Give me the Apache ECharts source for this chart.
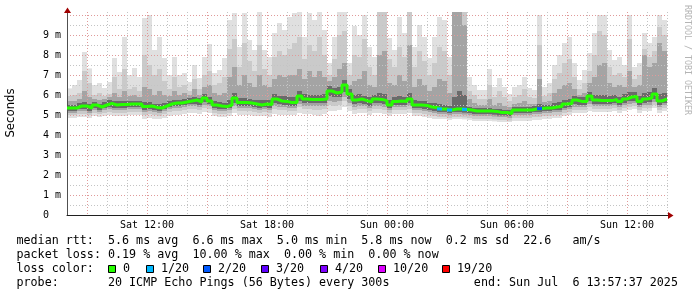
<!DOCTYPE html>
<html><head><meta charset="utf-8">
<script src="https://cdn.jsdelivr.net/npm/echarts@6/dist/echarts.min.js"></script>
<style>html,body{margin:0;padding:0;background:#fff}#c{width:697px;height:297px}</style>
</head><body><div id="c"></div><script>
// ---- data (hours since Sat 08:00, 15-minute columns) ----
const STEP = 0.25;
const xTickHours = [4, 10, 16, 22, 28];
const xTickLabels = ['Sat 12:00', 'Sat 18:00', 'Sun 00:00', 'Sun 06:00', 'Sun 12:00'];
const yTickValues = [0, 1, 2, 3, 4, 5, 6, 7, 8, 9];
const yTickLabels = ['0', '1 m', '2 m', '3 m', '4 m', '5 m', '6 m', '7 m', '8 m', '9 m'];

const medianMs = [
5.35,5.35,5.45,5.45,5.35,5.5,5.4,5.5,5.58,5.5,5.52,5.52,5.55,5.55,5.55,
5.42,5.45,5.38,5.35,5.45,5.55,5.6,5.6,5.65,5.7,5.75,5.65,5.85,5.7,5.5,
5.45,5.42,5.5,5.85,5.62,5.62,5.6,5.55,5.5,5.55,5.52,5.8,5.7,5.68,5.62,
5.62,5.95,5.8,5.78,5.78,5.78,5.8,6.2,6.1,6.15,6.5,6.05,5.75,5.8,5.72,
5.65,5.8,5.78,5.72,5.5,5.68,5.7,5.68,5.8,5.5,5.5,5.48,5.4,5.38,5.3,
5.3,5.25,5.3,5.3,5.28,5.25,5.2,5.2,5.2,5.2,5.18,5.12,5.12,5.08,5.25,
5.25,5.25,5.25,5.3,5.32,5.35,5.35,5.4,5.42,5.55,5.58,5.75,5.68,5.67,5.95,
5.75,5.72,5.72,5.72,5.78,5.67,5.8,5.9,5.93,5.67,5.8,5.85,6.05,5.7,5.8];

const lossCount = [
0,0,0,0,0,0,0,0,0,0,0,0,0,0,0,
0,0,0,0,0,0,0,0,0,0,0,0,0,0,0,
0,0,0,0,0,0,0,0,0,0,0,0,0,0,0,
0,0,0,0,0,0,0,0,0,0,0,0,0,0,0,
0,0,0,0,0,0,0,0,0,0,0,0,0,0,1,
0,1,0,0,1,0,0,0,0,0,0,0,0,0,0,
0,0,0,0,2,0,0,0,0,0,0,0,0,0,0,
0,0,0,0,0,0,0,0,0,0,0,0,0,0,0];

const smokeHiA = [
6.33,6.5,6.75,8.15,7.33,6.5,6.6,6.35,6.65,7.85,7.15,8.9,7.0,7.35,6.9,
9.85,10.0,8.25,8.9,7.85,7.0,7.9,7.0,7.1,6.65,7.5,6.85,7.9,8.55,7.1,
7.25,7.85,9.75,10.1,8.4,10.1,8.75,8.25,10.2,8.25,7.9,9.1,9.6,9.25,9.9,
10.1,10.2,8.9,10.1,9.75,10.2,9.25,7.6,8.9,10.2,10.2,7.6,9.45,9.0,10.0,
8.4,7.9,10.2,10.2,8.85,8.25,9.9,9.1,10.2,8.4,9.5,8.9,7.85,8.9,9.9,
9.75,7.9,10.2,10.2,10.2,6.9,6.5,6.25,6.25,7.3,6.4,6.85,6.4,6.05,6.4,
6.5,6.9,6.35,6.25,10.0,6.4,6.6,7.5,8.0,8.6,8.9,7.6,6.75,7.25,8.1,
9.1,10.0,10.0,8.25,7.75,7.9,7.5,10.0,7.4,7.6,9.1,8.6,8.9,10.0,9.75];

const smokeHiB = [
5.95,6.0,6.1,7.2,6.6,6.0,6.1,5.95,6.05,6.9,6.3,7.3,6.3,6.4,6.2,
8.0,7.5,7.0,7.3,6.7,6.3,6.9,6.4,6.5,6.2,6.8,6.3,7.0,7.2,6.5,
6.6,6.9,8.3,8.8,7.4,8.6,7.7,7.2,8.5,7.3,7.0,7.9,8.2,8.0,8.3,
8.6,8.9,7.8,8.5,8.2,8.9,8.0,7.0,7.8,9.0,9.2,7.0,8.0,7.9,
8.8,7.4,7.0,10.2,10.2,7.8,7.4,8.4,7.9,10.2,7.4,8.2,7.7,7.0,7.6,
8.4,8.2,7.0,10.2,10.2,10.2,6.2,6.0,5.8,5.8,6.5,5.9,6.2,5.9,5.7,
5.9,6.0,6.3,5.9,5.85,8.5,5.95,6.1,6.8,7.1,7.6,7.8,6.9,6.3,6.6,7.2,
8.0,9.2,9.0,7.4,7.0,7.1,6.9,8.8,6.8,7.0,8.3,7.9,8.2,9.4,9.0];

const smokeHiC = [
5.7,5.7,5.8,6.2,5.9,5.8,5.75,5.8,5.9,6.1,5.9,6.2,5.95,6.0,5.9,
6.4,6.3,6.0,6.2,6.0,5.95,6.2,6.0,6.1,6.0,6.3,6.0,6.4,6.5,6.1,
6.0,6.1,6.9,7.4,6.5,7.0,6.6,6.4,7.0,6.5,6.4,6.8,7.0,6.9,7.0,
7.0,7.3,6.8,7.2,6.9,7.2,6.9,6.7,6.9,7.3,7.6,6.5,6.7,6.8,
7.2,6.5,6.4,8.0,8.2,6.6,6.5,7.0,6.7,8.5,6.4,6.8,6.5,6.2,6.4,
6.8,6.7,6.1,10.2,10.2,9.5,5.8,5.6,5.5,5.5,5.8,5.5,5.6,5.45,5.4,
5.55,5.6,5.7,5.55,5.55,6.8,5.65,5.7,6.1,6.3,6.5,6.6,6.3,6.0,6.1,6.6,
6.9,7.5,7.6,6.6,6.4,6.5,6.4,7.2,6.4,6.5,8.0,7.4,7.6,8.6,8.2];

const smokeHiD = [
5.5,5.5,5.6,5.65,5.55,5.65,5.55,5.65,5.75,5.7,5.7,5.7,5.7,5.7,5.7,
5.65,5.65,5.55,5.55,5.6,5.7,5.75,5.75,5.8,5.85,5.9,5.85,6.05,5.9,5.7,
5.65,5.6,5.75,6.1,5.85,5.85,5.8,5.75,5.75,5.75,5.75,6.05,5.95,5.95,5.9,
5.9,6.2,6.05,6.0,6.0,6.0,6.05,6.45,6.35,6.4,6.75,6.3,6.0,6.05,
5.95,5.9,6.0,6.1,6.05,5.75,5.9,5.95,5.9,6.1,5.75,5.7,5.7,5.6,5.6,
5.55,5.5,5.45,5.9,6.2,6.0,5.4,5.35,5.35,5.35,5.35,5.3,5.3,5.25,5.25,
5.4,5.4,5.4,5.4,5.45,5.55,5.5,5.5,5.6,5.65,5.75,5.8,5.95,5.9,5.9,6.15,
6.0,6.0,6.0,5.95,6.0,5.9,6.05,6.15,6.15,5.95,6.1,6.15,6.35,6.05,6.1];

const smokeLoD = [
5.2,5.2,5.3,5.3,5.2,5.35,5.25,5.35,5.4,5.35,5.35,5.35,5.4,5.4,5.4,
5.25,5.3,5.25,5.2,5.3,5.4,5.45,5.45,5.5,5.55,5.55,5.5,5.65,5.55,5.35,
5.3,5.3,5.35,5.6,5.45,5.45,5.45,5.4,5.35,5.4,5.35,5.6,5.55,5.5,5.45,
5.45,5.7,5.6,5.6,5.6,5.6,5.6,5.95,5.9,5.9,6.15,5.8,5.55,5.6,
5.55,5.45,5.6,5.6,5.55,5.35,5.5,5.5,5.5,5.6,5.35,5.35,5.3,5.25,5.2,
5.15,5.15,5.1,5.15,5.15,5.12,5.1,5.05,5.05,5.05,5.05,5.02,4.98,4.98,4.95,
5.1,5.1,5.1,5.1,5.15,5.15,5.2,5.2,5.25,5.25,5.35,5.4,5.55,5.5,5.5,5.7,
5.55,5.55,5.55,5.55,5.6,5.5,5.6,5.7,5.7,5.5,5.6,5.65,5.8,5.5,5.6];

const smokeLoC = [
5.1,5.1,5.2,5.2,5.1,5.25,5.15,5.25,5.3,5.25,5.25,5.25,5.3,5.3,5.3,
5.15,5.2,5.15,5.1,5.2,5.3,5.35,5.35,5.4,5.45,5.45,5.4,5.5,5.45,5.25,
5.2,5.2,5.25,5.45,5.35,5.35,5.35,5.3,5.25,5.3,5.25,5.45,5.4,5.4,5.35,
5.35,5.55,5.45,5.45,5.45,5.45,5.45,5.7,5.65,5.7,5.9,5.6,5.4,5.45,
5.45,5.35,5.45,5.45,5.4,5.25,5.4,5.4,5.4,5.45,5.25,5.25,5.2,5.15,5.1,
5.05,5.05,5.0,5.05,5.05,5.02,5.0,4.95,4.95,4.95,4.95,4.92,4.9,4.9,4.85,
5.0,5.0,5.0,5.0,5.05,5.05,5.1,5.1,5.15,5.15,5.25,5.3,5.4,5.4,5.4,5.55,
5.45,5.45,5.45,5.45,5.5,5.4,5.5,5.55,5.6,5.4,5.5,5.5,5.65,5.4,5.5];

const smokeLoB = [
5.0,5.0,5.05,5.05,5.0,5.1,5.05,5.1,5.15,5.1,5.1,5.1,5.15,5.15,5.15,
5.0,5.05,5.0,4.95,5.05,5.15,5.2,5.2,5.25,5.3,5.3,5.25,5.35,5.3,5.1,
5.05,5.05,5.1,5.3,5.2,5.2,5.2,5.15,5.1,5.15,5.1,5.3,5.25,5.25,5.2,
5.2,5.4,5.3,5.3,5.25,5.25,5.3,5.5,5.45,5.5,5.7,5.45,5.25,5.3,
5.3,5.2,5.3,5.3,5.25,5.1,5.25,5.25,5.25,5.3,5.1,5.1,5.05,5.0,4.95,
4.9,4.9,4.85,4.9,4.9,4.88,4.85,4.8,4.8,4.8,4.8,4.78,4.75,4.75,4.72,
4.85,4.85,4.85,4.85,4.9,4.9,4.95,4.95,5.0,5.0,5.1,5.15,5.25,5.25,5.25,5.4,
5.3,5.3,5.3,5.3,5.35,5.25,5.35,5.4,5.45,5.25,5.35,5.35,5.5,5.25,5.35];

const smokeLoA = [
4.85,4.85,4.9,4.9,4.85,4.95,4.9,4.95,5.0,4.95,4.95,4.95,5.0,5.0,5.0,
4.8,4.85,4.8,4.8,4.85,4.95,5.0,5.0,5.05,5.1,5.1,5.05,5.15,5.1,4.95,
4.9,4.9,4.95,5.1,5.0,5.0,5.0,4.95,4.95,4.95,4.9,5.05,5.0,5.0,5.0,
5.0,5.1,5.05,5.05,5.0,4.95,5.05,5.2,5.2,5.25,5.4,5.2,5.05,5.1,
5.1,5.0,5.1,5.1,5.05,4.95,5.05,5.05,5.05,5.1,4.95,4.95,4.9,4.85,4.8,
4.8,4.8,4.75,4.8,4.8,4.78,4.75,4.7,4.7,4.7,4.7,4.68,4.65,4.65,4.65,
4.7,4.7,4.7,4.7,4.75,4.75,4.8,4.8,4.85,4.85,4.95,5.0,5.1,5.1,5.1,5.2,
5.15,5.15,5.15,5.15,5.2,5.1,5.2,5.25,5.3,5.1,5.2,5.2,5.35,5.1,5.2];

const lossLevels = ['0', '1/20', '2/20', '3/20', '4/20', '10/20', '19/20'];
const lossThresholds = [0, 1, 2, 3, 4, 10, 19];
const lossColors = ['#26ff00', '#00b8ff', '#0059ff', '#5e00ff', '#7e00ff', '#dd00ff', '#ff0000'];

const statLines = [
  'median rtt:  5.6 ms avg  6.6 ms max  5.0 ms min  5.8 ms now  0.2 ms sd  22.6   am/s',
  'packet loss: 0.19 % avg  10.00 % max  0.00 % min  0.00 % now',
  'loss color:',
  'probe:       20 ICMP Echo Pings (56 Bytes) every 300s            end: Sun Jul  6 13:57:37 2025'
];

// ---- layout ----
const G = {left: 67, top: 12, width: 601, height: 203};
const X_MAX = 30.05, Y_MAX = 10.15;
const MONO = '"DejaVu Sans Mono", monospace';
const colStart = i => i * STEP;
const lossColor = n => { let k = 0; lossThresholds.forEach((t, i) => { if (n >= t) k = i; }); return lossColors[k]; };

function smokeSeries(lo, hi, color) {
  return {
    type: 'custom', z: 1, silent: true,
    renderItem: (params, api) => {
      const t = api.value(0);
      const a = api.coord([t, api.value(2)]);
      const b = api.coord([t + STEP, api.value(1)]);
      const cs = params.coordSys;
      const shape = echarts.graphic.clipRectByRect(
        {x: a[0], y: a[1], width: b[0] - a[0], height: b[1] - a[1]},
        {x: cs.x, y: cs.y, width: cs.width, height: cs.height});
      return shape ? {type: 'rect', shape, style: {fill: color}} : null;
    },
    encode: {x: 0, y: [1, 2]},
    data: lo.map((v, i) => [colStart(i), v, hi[i]])
  };
}

const medianPts = medianMs.map((v, i) => [colStart(i), v]);
medianPts.push([colStart(medianMs.length), medianMs[medianMs.length - 1]]);
const lossPts = [];
lossCount.forEach((n, i) => { if (n > 0) lossPts.push([colStart(i), medianMs[i], n]); });

function txt(text, x, y, extra) {
  return {
    type: 'text', x, y, silent: true, z: 10,
    style: Object.assign({text, fill: '#000', font: '11.7px ' + MONO,
      align: 'left', verticalAlign: 'middle', textAlign: 'left', textVerticalAlign: 'middle'}, extra || {})
  };
}

const graphics = [];
const rowY = [241, 255, 269, 282.5];
statLines.forEach((s, i) => graphics.push(txt(s, 16.5, rowY[i])));
const sqX = [108, 145.7, 203, 261, 319.5, 377.7, 441.7];
lossLevels.forEach((lab, i) => {
  const x = Math.round(sqX[i]);
  graphics.push({type: 'rect', silent: true, z: 10,
    shape: {x: x + 0.5, y: 265.5, width: 7, height: 7},
    style: {fill: lossColors[i], stroke: '#000', lineWidth: 1}});
  graphics.push(txt(lab, x + 15, rowY[2]));
});
graphics.push({type: 'text', x: 11, y: 113, rotation: Math.PI / 2, silent: true,
  style: {text: 'Seconds', fill: '#000', font: '11.7px "DejaVu Sans", sans-serif',
    align: 'center', verticalAlign: 'middle', textAlign: 'center', textVerticalAlign: 'middle'}});
graphics.push({type: 'text', x: 687, y: 5, rotation: -Math.PI / 2, silent: true,
  style: {text: 'RRDTOOL / TOBI OETIKER', fill: '#b4b4b4', font: '8.3px ' + MONO,
    align: 'left', verticalAlign: 'middle', textAlign: 'left', textVerticalAlign: 'middle'}});
// axis arrows
graphics.push({type: 'polygon', silent: true, z: 10,
  shape: {points: [[64, 13], [71, 13], [67.5, 7.5]]}, style: {fill: '#a00000'}});
graphics.push({type: 'polygon', silent: true, z: 10,
  shape: {points: [[668, 212], [668, 219], [673.5, 215.5]]}, style: {fill: '#a00000'}});

const chart = echarts.init(document.getElementById('c'), null, {renderer: 'canvas'});
chart.setOption({
  animation: false,
  backgroundColor: '#ffffff',
  grid: {left: G.left, top: G.top, width: G.width, height: G.height},
  xAxis: {
    type: 'value', min: 0, max: X_MAX, interval: 1, z: 2,
    axisLine: {show: true, lineStyle: {color: '#202020', width: 1}},
    axisTick: {show: false},
    axisLabel: {
      color: '#000', fontFamily: MONO, fontSize: 10, margin: 5,
      formatter: v => { const k = xTickHours.findIndex(h => Math.abs(h - v) < 1e-6); return k >= 0 ? xTickLabels[k] : ''; }
    },
    splitLine: {show: true, showMaxLine: false,
      lineStyle: {color: ['#c4c4c4', '#e09a9a', '#c4c4c4'], type: [1, 2], width: 1}}
  },
  yAxis: {
    type: 'value', min: 0, max: Y_MAX, interval: 0.5, z: 2,
    axisLine: {show: true, lineStyle: {color: '#505050', width: 1}},
    axisTick: {show: false},
    axisLabel: {
      color: '#000', fontFamily: MONO, fontSize: 10, margin: 24, align: 'left',
      formatter: v => { const k = yTickValues.findIndex(h => Math.abs(h - v) < 1e-6); return k >= 0 ? yTickLabels[k] : ''; }
    },
    splitLine: {show: true, showMaxLine: false,
      lineStyle: {color: ['#e09a9a', '#c4c4c4'], type: [1, 2], width: 1}}
  },
  series: [
    smokeSeries(smokeLoA, smokeHiA, '#e0e0e0'),
    smokeSeries(smokeLoB, smokeHiB, '#cacaca'),
    smokeSeries(smokeLoC, smokeHiC, '#a4a4a4'),
    smokeSeries(smokeLoD, smokeHiD, '#6a6a6a'),
    {
      type: 'line', z: 5, step: 'end', symbol: 'none', silent: true,
      lineStyle: {color: lossColors[0], width: 3}, data: medianPts
    },
    {
      type: 'custom', z: 6, silent: true,
      renderItem: (params, api) => {
        const t = api.value(0), m = api.value(1);
        const a = api.coord([t, m]);
        const b = api.coord([t + STEP, m]);
        return {type: 'rect', shape: {x: a[0], y: a[1] - 1.5, width: b[0] - a[0], height: 3},
          style: {fill: lossColor(api.value(2))}};
      },
      encode: {x: 0, y: 1},
      data: lossPts
    }
  ],
  graphic: graphics
});
</script></body></html>
